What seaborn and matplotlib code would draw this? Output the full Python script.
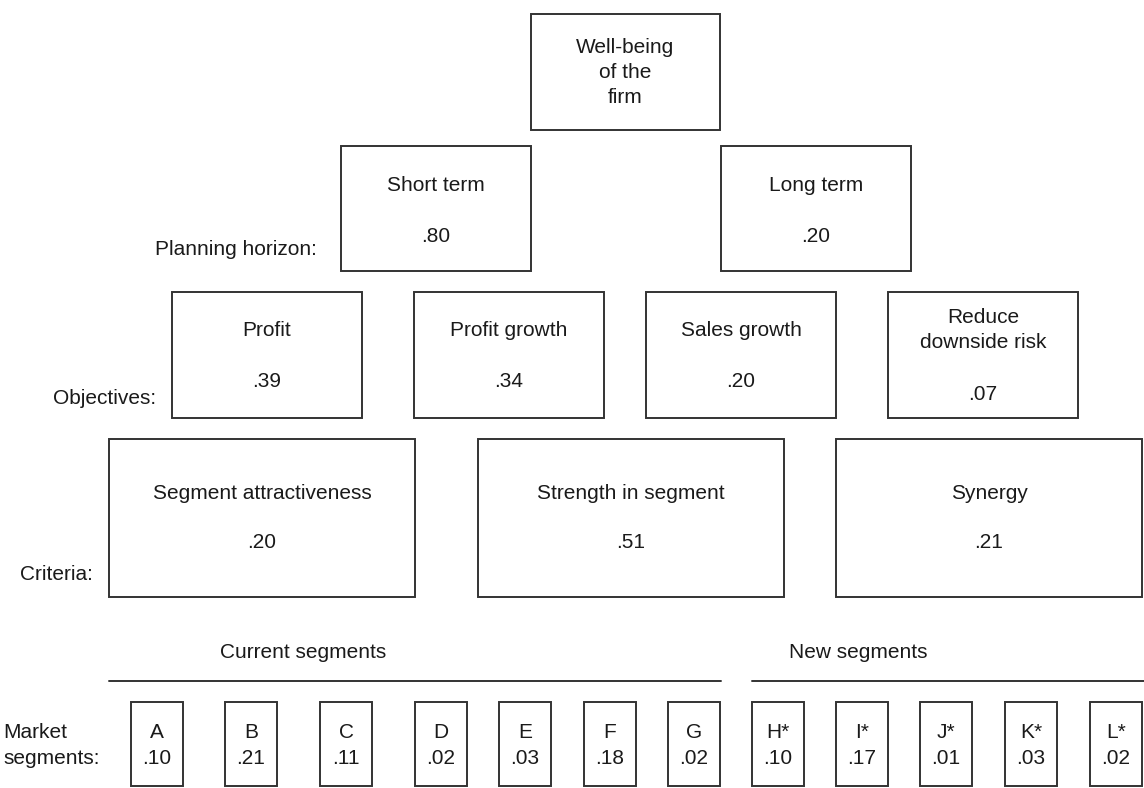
import numpy as np
import pandas as pd
import matplotlib.pyplot as plt
import seaborn as sns
from matplotlib.patches import Rectangle

# Hierarchy contents
goal_label = 'Well-being\nof the\nfirm'
horizon_labels = ['Short term', 'Long term']
horizon_values = ['.80', '.20']
objective_labels = ['Profit', 'Profit growth', 'Sales growth', 'Reduce\ndownside risk']
objective_values = ['.39', '.34', '.20', '.07']
criteria_labels = ['Segment attractiveness', 'Strength in segment', 'Synergy']
criteria_values = ['.20', '.51', '.21']
segment_labels = ['A', 'B', 'C', 'D', 'E', 'F', 'G', 'H*', 'I*', 'J*', 'K*', 'L*']
segment_values = ['.10', '.21', '.11', '.02', '.03', '.18', '.02', '.10', '.17', '.01', '.03', '.02']
group_labels = ['Current segments', 'New segments']

sns.set_theme(style='white')
plt.rcParams['font.family'] = ['Liberation Sans', 'DejaVu Sans']

fig, ax = plt.subplots(figsize=(11.44, 7.88), dpi=100)
fig.subplots_adjust(0, 0, 1, 1)
ax.set_xlim(0, 1144)
ax.set_ylim(788, 0)
ax.axis('off')

edge = '#333333'
fs = 15
gap = 25  # distance between stacked lines of one label


def box(x0, y0, x1, y1):
    ax.add_patch(Rectangle((x0, y0), x1 - x0, y1 - y0, fill=False,
                           edgecolor=edge, linewidth=1.4))


def txt(x, y, s, ha='center'):
    # stack the lines of a label around y
    lines = s.split('\n')
    start = y - gap * (len(lines) - 1) / 2
    for i, line in enumerate(lines):
        ax.text(x, start + i * gap, line, ha=ha, va='center', fontsize=fs,
                color='#1a1a1a')


# goal
box(531, 14, 720, 130)
txt(625, 72, goal_label)

# planning horizon
horizon_x = [341, 721]
for x0, lab, val in zip(horizon_x, horizon_labels, horizon_values):
    box(x0, 146, x0 + 190, 271)
    txt(x0 + 95, 185, lab)
    txt(x0 + 95, 236, val)
txt(317, 249, 'Planning horizon:', ha='right')

# objectives
objective_x = [172, 414, 646, 888]
for x0, lab, val in zip(objective_x, objective_labels, objective_values):
    box(x0, 292, x0 + 190, 418)
    if '\n' in lab:
        txt(x0 + 95, 330, lab)
        txt(x0 + 95, 394, val)
    else:
        txt(x0 + 95, 330, lab)
        txt(x0 + 95, 381, val)
txt(156, 398, 'Objectives:', ha='right')

# criteria
criteria_x = [109, 478, 836]
for x0, lab, val in zip(criteria_x, criteria_labels, criteria_values):
    box(x0, 439, x0 + 306, 597)
    txt(x0 + 153, 493, lab)
    txt(x0 + 153, 543, val)
txt(93, 575, 'Criteria:', ha='right')

# segment groups
txt(303, 653, group_labels[0])
txt(858, 653, group_labels[1])
ax.plot([109, 721], [681, 681], color=edge, linewidth=1.4)
ax.plot([752, 1144], [681, 681], color=edge, linewidth=1.4)

# market segments
segment_x = [131, 225, 320, 415, 499, 584, 668, 752, 836, 920, 1005, 1090]
for x0, lab, val in zip(segment_x, segment_labels, segment_values):
    box(x0, 702, x0 + 52, 786)
    txt(x0 + 26, 732, lab)
    txt(x0 + 26, 758, val)
ax.text(3, 733, 'Market', ha='left', va='center', fontsize=fs, color='#1a1a1a')
ax.text(3, 758, 'segments:', ha='left', va='center', fontsize=fs, color='#1a1a1a')

fig.savefig('out.png', dpi=100, facecolor='white')
